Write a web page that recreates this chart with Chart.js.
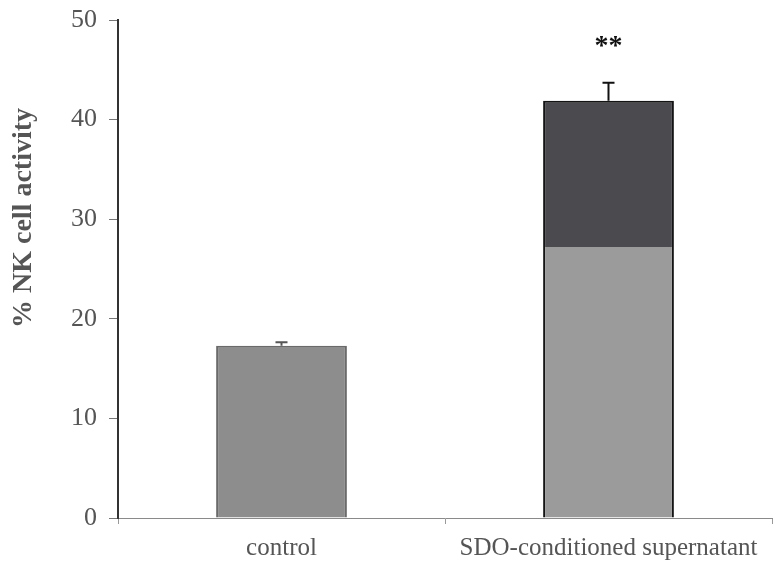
<!DOCTYPE html>
<html>
<head>
<meta charset="utf-8">
<script src="https://cdn.jsdelivr.net/npm/chart.js@4/dist/chart.umd.min.js"></script>
<style>
html,body{margin:0;padding:0;background:#fff;}
#wrap{width:779px;height:572px;}
</style>
</head>
<body>
<div id="wrap"><canvas id="c" width="779" height="572"></canvas></div>
<script>
const categories = ["control", "SDO-conditioned supernatant"];
const values = [17.3, 41.9];
const errors = [0.35, 1.8];
const significance = ["", "**"];
const yTicks = [0, 10, 20, 30, 40, 50];
const yTitle = "% NK cell activity";
const shadeBoundary = 27.2; // watermark lightening on the lower part of the second bar

const serif = "'Liberation Serif', 'Times New Roman', serif";

function barFill(ctx) {
  const chart = ctx.chart;
  if (ctx.dataIndex === 0) return '#8d8d8d';
  const ys = chart.scales.y;
  if (!chart.chartArea || !ys) return '#4b4b50';
  const top = ys.getPixelForValue(values[1]);
  const bottom = ys.getPixelForValue(0);
  const mid = ys.getPixelForValue(shadeBoundary);
  const g = chart.ctx.createLinearGradient(0, top, 0, bottom);
  const f = Math.min(1, Math.max(0, (mid - top) / (bottom - top)));
  g.addColorStop(0, '#4a4a4f');
  g.addColorStop(f, '#4a4a4f');
  g.addColorStop(f, '#9b9b9b');
  g.addColorStop(1, '#9b9b9b');
  return g;
}

const extras = {
  id: 'extras',
  afterDatasetsDraw(chart) {
    const ctx = chart.ctx;
    const ys = chart.scales.y;
    const meta = chart.getDatasetMeta(0);
    ctx.save();
    meta.data.forEach((bar, i) => {
      const yTop = ys.getPixelForValue(values[i] + errors[i]);
      const yBase = ys.getPixelForValue(values[i]);
      ctx.strokeStyle = i === 0 ? '#555' : '#111';
      ctx.lineWidth = 2;
      ctx.beginPath();
      ctx.moveTo(bar.x, yBase);
      ctx.lineTo(bar.x, yTop);
      ctx.moveTo(bar.x - 6, yTop);
      ctx.lineTo(bar.x + 6, yTop);
      ctx.stroke();
      if (significance[i]) {
        ctx.fillStyle = '#111';
        ctx.font = "bold 28px " + serif;
        ctx.textAlign = 'center';
        ctx.textBaseline = 'middle';
        ctx.fillText(significance[i], bar.x, yTop - 36);
      }
    });
    // y-axis title
    ctx.translate(24, 218);
    ctx.rotate(-Math.PI / 2);
    ctx.fillStyle = '#555';
    ctx.font = "bold 28px " + serif;
    ctx.textAlign = 'center';
    ctx.textBaseline = 'middle';
    ctx.fillText(yTitle, 0, 0);
    ctx.restore();
  }
};

new Chart(document.getElementById('c'), {
  type: 'bar',
  data: {
    labels: categories,
    datasets: [{
      data: values,
      backgroundColor: barFill,
      borderColor: ['#6a6a6a', '#141414'],
      borderWidth: 2,
      borderSkipped: 'bottom',
      barPercentage: 0.4,
      categoryPercentage: 1.0
    }]
  },
  options: {
    responsive: false,
    animation: false,
    layout: { autoPadding: false, padding: { left: 0, right: 7, top: 20, bottom: 0 } },
    plugins: { legend: { display: false }, tooltip: { enabled: false } },
    scales: {
      x: {
        offset: true,
        grid: { display: true, offset: true, drawOnChartArea: false, drawTicks: true, tickLength: 6, color: '#999', lineWidth: 1 },
        border: { display: true, color: '#8a8a8a', width: 1 },
        ticks: { color: '#555', font: { family: serif, size: 25 }, padding: 9, maxRotation: 0 },
        afterFit(s) { s.height = 54; s.paddingLeft = 0; s.paddingRight = 0; }
      },
      y: {
        min: 0, max: 50,
        afterBuildTicks(s) { s.ticks = yTicks.map(v => ({ value: v })); },
        grid: { display: true, drawOnChartArea: false, drawTicks: true, tickLength: 9, color: '#777', lineWidth: 1 },
        border: { display: true, color: '#333', width: 2, dash: [1, 1] },
        ticks: { color: '#555', font: { family: serif, size: 26 }, padding: 12 },
        afterFit(s) { s.width = 118; s.paddingTop = 0; s.paddingBottom = 0; }
      }
    }
  },
  plugins: [extras]
});
</script>
</body>
</html>
